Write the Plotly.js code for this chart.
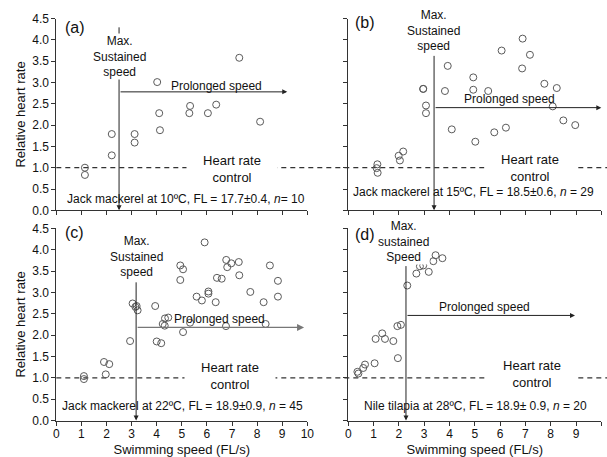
<!DOCTYPE html>
<html>
<head>
<meta charset="utf-8">
<script src="https://cdn.plot.ly/plotly-3.0.1.min.js"></script>
<style>html,body{margin:0;padding:0;background:#fff;}#chart{width:607px;height:457px;}</style>
</head>
<body>
<div id="chart"></div>
<script>
// Panel (a): Jack mackerel at 10 C
const speedA = [1.14, 1.14, 2.21, 2.21, 3.12, 3.12, 4.02, 4.10, 4.13, 5.33, 5.30, 6.04, 6.37, 7.29, 8.12];
const hrA    = [1.00, 0.83, 1.79, 1.29, 1.79, 1.59, 3.01, 2.28, 1.88, 2.45, 2.28, 2.28, 2.48, 3.58, 2.08];
// Panel (b): Jack mackerel at 15 C
const speedB = [1.15, 1.12, 1.16, 1.99, 2.04, 2.17, 2.96, 2.96, 3.07, 3.07, 3.93, 3.82, 4.09, 4.94, 4.94, 5.02, 5.53, 5.77, 6.06, 6.23, 6.89, 7.18, 6.87, 7.75, 8.24, 8.08, 8.50, 8.97];
const hrB    = [1.08, 0.99, 0.88, 1.28, 1.17, 1.38, 2.85, 2.85, 2.46, 2.28, 3.39, 2.80, 1.90, 3.12, 2.83, 1.61, 2.80, 1.83, 3.75, 1.94, 4.03, 3.65, 3.33, 2.97, 2.87, 2.44, 2.11, 2.00];
// Panel (c): Jack mackerel at 22 C
const speedC = [1.10, 1.10, 1.90, 2.11, 1.97, 2.94, 3.04, 3.15, 3.20, 3.24, 3.94, 4.00, 4.18, 4.33, 4.46, 4.24, 4.32, 4.94, 5.05, 4.94, 5.05, 5.33, 5.59, 5.80, 5.91, 6.06, 6.06, 6.35, 6.40, 6.59, 6.77, 6.81, 6.97, 6.76, 7.27, 7.29, 7.73, 8.26, 8.34, 8.51, 8.83, 8.83];
const hrC    = [1.04, 0.97, 1.37, 1.32, 1.08, 1.86, 2.74, 2.66, 2.68, 2.58, 2.68, 1.85, 1.81, 2.39, 2.41, 2.26, 2.22, 3.63, 3.54, 3.29, 2.07, 2.29, 2.90, 2.81, 4.17, 3.02, 2.97, 2.77, 3.34, 3.32, 3.76, 3.59, 3.68, 2.21, 3.71, 3.40, 3.01, 2.77, 2.26, 3.63, 3.27, 2.90];
// Panel (d): Nile tilapia at 28 C
const speedD = [0.36, 0.40, 0.59, 0.66, 1.04, 1.08, 1.34, 1.45, 1.78, 1.96, 1.94, 2.08, 2.33, 2.69, 2.83, 2.96, 3.18, 3.36, 3.45, 3.72];
const hrD    = [1.14, 1.10, 1.23, 1.31, 1.34, 1.91, 2.04, 1.91, 1.86, 1.46, 2.21, 2.24, 3.16, 3.44, 3.61, 3.63, 3.48, 3.73, 3.87, 3.80];

// Thresholds read from the arrows
const maxSustained = [2.50, 3.39, 3.18, 2.28];
const maxArrowTop  = [4.33, 3.66, 3.27, 3.65];
const prolongedHR  = [2.78, 2.41, 2.18, 2.46];
const prolongedEnd = [9.20, 10.0, 9.87, 8.96];
const controlHR = 1.0;

// Texts
const panelLabels = ['(a)', '(b)', '(c)', '(d)'];
const maxTexts = ['Max.<br>Sustained<br>speed', 'Max.<br>Sustained<br>speed', 'Max.<br>Sustained<br>speed', 'Max.<br>sustained<br>Speed'];
const captions = [
  'Jack mackerel at 10ºC, FL = 17.7±0.4, <i>n</i>= 10',
  'Jack mackerel at 15ºC, FL = 18.5±0.6, <i>n</i> = 29',
  'Jack mackerel at 22ºC, FL = 18.9±0.9, <i>n</i> = 45',
  'Nile tilapia at 28ºC, FL = 18.9± 0.9, <i>n</i> = 20'
];
const xTickVals = [0,1,2,3,4,5,6,7,8,9,10];
const yTickVals = [0,0.5,1,1.5,2,2.5,3,3.5,4,4.5];

const FONT = 'Liberation Sans, Arial, sans-serif';
const ink = '#222';

const speeds = [speedA, speedB, speedC, speedD];
const hrs = [hrA, hrB, hrC, hrD];
const xrefs = ['x', 'x2', 'x3', 'x4'];
const yrefs = ['y', 'y2', 'y3', 'y4'];

const traces = speeds.map((s, i) => ({
  type: 'scatter', mode: 'markers', x: s, y: hrs[i],
  xaxis: xrefs[i], yaxis: yrefs[i], cliponaxis: false,
  marker: {symbol: 'circle-open', size: 7, color: '#5a5a5a', line: {width: 1, color: '#5a5a5a'}},
  hoverinfo: 'skip'
}));

// Text positions per panel (layout, not data)
const pos = [
  {lab: [0.27, 4.28], max: [2.50, 3.60], pro: [6.39, 2.92], hr: [6.99, 0.97], cap: [5.17, 0.27]},
  {lab: [0.19, 4.40], max: [3.36, 4.23], pro: [6.39, 2.62], hr: [7.18, 0.99], cap: [4.94, 0.43]},
  {lab: [0.27, 4.39], max: [3.18, 3.84], pro: [6.52, 2.38], hr: [6.92, 1.04], cap: [5.01, 0.35]},
  {lab: [0.19, 4.35], max: [2.20, 4.20], pro: [5.40, 2.65], hr: [7.25, 1.09], cap: [5.04, 0.34]}
];

const annotations = [];
const f12 = {family: FONT, size: 12, color: '#111'};
for (let i = 0; i < 4; i++) {
  const xr = xrefs[i], yr = yrefs[i], p = pos[i];
  // vertical arrow (max sustained speed)
  annotations.push({xref: xr, yref: yr, axref: xr, ayref: yr,
    x: maxSustained[i], y: 0, ax: maxSustained[i], ay: maxArrowTop[i],
    text: '', showarrow: true, arrowhead: 2, arrowsize: 1, arrowwidth: 1,
    arrowcolor: ink, standoff: 0, startstandoff: 0});
  // horizontal arrow (prolonged speed)
  annotations.push({xref: xr, yref: yr, axref: xr, ayref: yr,
    x: prolongedEnd[i], y: prolongedHR[i], ax: maxSustained[i], ay: prolongedHR[i],
    text: '', showarrow: true, arrowhead: 2, arrowsize: 1, arrowwidth: i === 2 ? 1.4 : 1,
    arrowcolor: i === 2 ? '#777' : ink, standoff: 0, startstandoff: 0});
  annotations.push({xref: xr, yref: yr, x: p.max[0], y: p.max[1], text: maxTexts[i],
    showarrow: false, font: f12, bgcolor: 'rgba(255,255,255,1)', borderpad: 0});
  annotations.push({xref: xr, yref: yr, x: p.pro[0], y: p.pro[1], text: 'Prolonged speed',
    showarrow: false, font: f12});
  annotations.push({xref: xr, yref: yr, x: p.hr[0], y: p.hr[1], text: 'Heart rate<br>control',
    showarrow: false, font: {family: FONT, size: 13, color: '#111'}, bgcolor: '#fff', width: 88});
  annotations.push({xref: xr, yref: yr, x: p.cap[0], y: p.cap[1], text: captions[i],
    showarrow: false, font: f12});
  annotations.push({xref: xr, yref: yr, x: p.lab[0], y: p.lab[1], text: panelLabels[i],
    xanchor: 'left', showarrow: false, font: {family: FONT, size: 16, color: '#111'}});
}

const xdomL = [56.3/607, 307.3/607], xdomR = [348.3/607, 601.3/607];
const ydomT = [1 - 210.3/457, 1 - 18.6/457], ydomB = [1 - 420.5/457, 1 - 228.3/457];

function xaxis(dom, anchor, labels) {
  return {domain: dom, anchor: anchor, range: [0, 10], showgrid: false, zeroline: false,
    showline: true, linecolor: '#333', linewidth: 1, ticks: 'outside', ticklen: 4, tickcolor: '#333',
    tickvals: xTickVals, showticklabels: labels, tickfont: {family: FONT, size: 12, color: '#111'},
    ticklabelstandoff: -2,
    title: labels ? {text: 'Swimming speed (FL/s)', font: {family: FONT, size: 13, color: '#111'}, standoff: 4} : {text: ''},
    fixedrange: true};
}
function yaxis(dom, anchor, labels) {
  return {domain: dom, anchor: anchor, range: [0, 4.5], showgrid: false, zeroline: false,
    showline: true, linecolor: '#333', linewidth: 1, ticks: 'outside', ticklen: 4, tickcolor: '#333',
    tickvals: yTickVals, tickformat: '.1f', showticklabels: labels, tickfont: {family: FONT, size: 12, color: '#111'},
    title: labels ? {text: 'Relative heart rate', font: {family: FONT, size: 13, color: '#111'}, standoff: 3} : {text: ''},
    fixedrange: true};
}

const shapes = [
  {type: 'line', xref: 'paper', yref: 'y', x0: xdomL[0], x1: 1, y0: controlHR, y1: controlHR,
   line: {color: '#333', width: 1.3, dash: '5px,4px'}, layer: 'below'},
  {type: 'line', xref: 'paper', yref: 'y3', x0: xdomL[0], x1: 1, y0: controlHR, y1: controlHR,
   line: {color: '#333', width: 1.3, dash: '5px,4px'}, layer: 'below'}
];

const layout = {
  width: 607, height: 457, margin: {l: 0, r: 0, t: 0, b: 0},
  paper_bgcolor: '#fff', plot_bgcolor: 'rgba(0,0,0,0)', showlegend: false,
  font: {family: FONT, size: 12, color: '#111'},
  xaxis: xaxis(xdomL, 'y', false),
  yaxis: yaxis(ydomT, 'x', true),
  xaxis2: xaxis(xdomR, 'y2', false),
  yaxis2: yaxis(ydomT, 'x2', false),
  xaxis3: xaxis(xdomL, 'y3', true),
  yaxis3: yaxis(ydomB, 'x3', true),
  xaxis4: xaxis(xdomR, 'y4', true),
  yaxis4: yaxis(ydomB, 'x4', false),
  annotations: annotations,
  shapes: shapes
};

Plotly.newPlot('chart', traces, layout, {staticPlot: true, displayModeBar: false});
</script>
</body>
</html>
